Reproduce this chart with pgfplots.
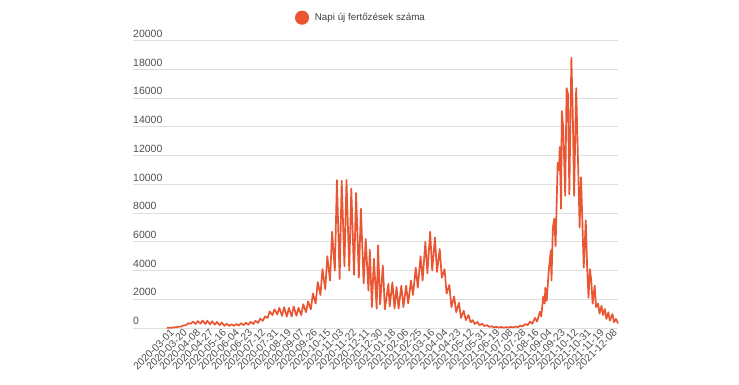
\documentclass[border=0pt]{standalone}
\usepackage{fontspec}
\setmainfont{Liberation Sans}
\usepackage{pgfplots}
\pgfplotsset{compat=1.18}
\definecolor{lineor}{RGB}{234,85,50}
\definecolor{gridc}{RGB}{222,222,222}
\definecolor{labc}{RGB}{80,80,80}
\begin{document}
\begin{tikzpicture}[x=1pt,y=1pt]
\path[use as bounding box] (0,0) rectangle (739,385);
\begin{axis}[
  at={(133pt,57pt)}, anchor=south west,
  scale only axis, width=485pt, height=287.3pt,
  xmin=-55.4, xmax=652, ymin=0, ymax=20000,
  axis line style={draw=none},
  major tick length=0pt,
  ymajorgrids, grid style={gridc, line width=0.9pt},
  scaled y ticks=false,
  ytick={0,2000,...,20000},
  yticklabels={0,2000,4000,6000,8000,10000,12000,14000,16000,18000,20000},
  yticklabel style={anchor=south west, font=\fontsize{10.5}{12}\selectfont, text=labc, inner sep=0pt, yshift=3pt},
  xtick={0,19,...,646},
  xticklabels={2020-03-01,2020-03-20,2020-04-08,2020-04-27,2020-05-16,2020-06-04,2020-06-23,2020-07-12,2020-07-31,2020-08-19,2020-09-07,2020-09-26,2020-10-15,2020-11-03,2020-11-22,2020-12-11,2020-12-30,2021-01-18,2021-02-06,2021-02-25,2021-03-16,2021-04-04,2021-04-23,2021-05-12,2021-05-31,2021-06-19,2021-07-08,2021-07-28,2021-08-16,2021-09-04,2021-09-23,2021-10-12,2021-10-31,2021-11-19,2021-12-08},
  xticklabel style={rotate=45, anchor=east, font=\fontsize{10.3}{12}\selectfont, text=labc, inner sep=1pt, yshift=-3pt},
  legend style={at={(axis description cs:0.470,1)}, anchor=center, yshift=23pt, draw=none, fill=none, font=\fontsize{9.8}{12}\selectfont, text=labc!80!black, /tikz/every even column/.append style={column sep=0pt}},
  legend image code/.code={\fill[lineor] (0pt,0pt) circle (6.2pt); \path (10pt,0pt);},
  clip=false,
]
\addplot[lineor, line width=1.7pt, line join=round] table {
x y
-6 10
-3 15
1 20
4 40
8 60
11 90
15 100
18 180
22 200
25 330
29 300
32 450
36 280
39 480
43 300
46 520
50 280
53 500
57 250
60 470
64 230
67 420
71 200
74 380
78 150
81 300
85 150
88 260
92 150
95 280
99 170
102 330
106 200
109 370
113 230
116 430
120 280
123 500
127 350
130 650
134 500
137 800
141 700
144 1150
148 900
151 1300
155 950
158 1400
162 850
165 1450
169 800
172 1400
176 800
179 1500
183 850
186 1400
190 900
193 1650
197 1100
200 1850
204 1300
207 2400
211 1700
214 3200
218 2300
221 4100
225 2700
228 5000
232 3300
235 6700
239 4000
242 10300
246 3400
249 10250
253 4300
256 10300
260 4000
263 9700
267 3700
270 9400
274 3500
277 8300
281 3100
284 6200
288 2600
290 5450
293 1450
296 4820
300 1350
302 5750
305 1650
309 4350
312 1300
317 3070
319 1500
323 3180
326 1350
329 2850
332 1350
336 2950
339 1450
343 2950
346 1700
350 3300
353 2300
357 4200
360 2800
364 5000
367 3300
371 6000
374 3800
378 6700
381 4000
385 6300
388 3900
392 5500
395 3500
399 4100
402 2400
406 3000
409 1450
413 2200
416 1100
420 1750
423 700
427 1200
430 550
434 900
437 400
440 550
443 280
447 420
450 200
454 300
457 140
461 200
464 80
468 120
471 50
475 80
478 30
482 70
485 25
489 60
492 30
496 80
499 40
503 100
506 60
510 170
513 120
517 280
520 190
524 450
527 300
531 700
534 450
538 1130
540 800
543 2200
545 1700
546 2800
548 1900
551 4000
554 5400
555 3300
557 7000
559 7600
561 5700
564 11500
566 11000
567 12600
569 8300
570 15100
572 14000
575 9200
577 16700
579 16300
581 9300
584 18800
586 15000
588 9200
591 16700
594 11000
596 7000
598 10500
600 7500
602 4200
605 7500
607 4200
609 2100
611 4100
613 3300
615 1700
618 2950
620 1450
623 1700
625 1000
628 1550
630 900
633 1320
635 630
638 1090
640 510
644 975
646 400
649 630
652 320
};
\addlegendentry{Napi új fertőzések száma}
\end{axis}
\end{tikzpicture}
\end{document}
